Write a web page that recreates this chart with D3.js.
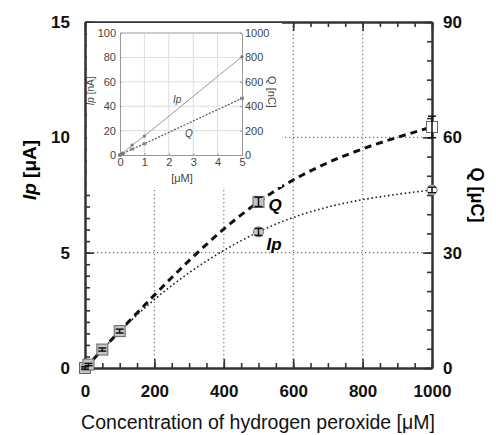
<!DOCTYPE html>
<html>
<head>
<meta charset="utf-8">
<script src="https://cdn.jsdelivr.net/npm/d3@7"></script>
<style>
  body { margin: 0; background: #fff; }
  svg { display: block; }
  .main .tick text { font-family: "Liberation Sans Narrow", "Liberation Sans", Arial, sans-serif; font-weight: bold; font-size: 17px; fill: #111; }
  .inset .tick text { font-family: "Liberation Sans Narrow", "Liberation Sans", Arial, sans-serif; font-size: 11px; fill: #444; }
</style>
</head>
<body>
<div id="chart"></div>
<script>
// main data (concentration in uM, Ip in uA, Q in uC)
const conc = [0, 10, 50, 100, 500, 1000];
const ipMean = [0, 0.15, 0.8, 1.58, 5.9, 7.72];
const ipErr = [0.05, 0.05, 0.07, 0.08, 0.15, 0.12];
const qMean = [0, 0.9, 4.8, 9.6, 43.2, 62.7];
const qErr = [0.3, 0.3, 0.4, 0.5, 1.2, 2.8];

// inset data (concentration in uM, Ip in nA, Q in nC)
const insetConc = [0, 0.1, 0.5, 1, 5];
const insetIp = [0, 1.5, 8.2, 15.5, 80.6];
const insetQ = [0, 9, 49, 92, 465];

const xTicks = [0, 200, 400, 600, 800, 1000];
const ipTicks = [0, 5, 10, 15];
const qTicks = [0, 30, 60, 90];

const W = 496, H = 435;
const margin = {top: 22, right: 64, bottom: 67, left: 85},
    width = W - margin.left - margin.right,
    height = H - margin.top - margin.bottom;

const svg = d3.select("#chart").append("svg")
    .attr("width", W)
    .attr("height", H);

const g = svg.append("g")
    .attr("class", "main")
    .attr("transform", "translate(" + margin.left + "," + margin.top + ")");

const x = d3.scaleLinear().domain([0, 1000]).range([0, width]);
const y = d3.scaleLinear().domain([0, 15]).range([height, 0]);
const yQ = d3.scaleLinear().domain([0, 90]).range([height, 0]);

// dotted grid
const grid = g.append("g").attr("class", "grid");
grid.selectAll("line.v")
    .data(xTicks.slice(1, -1))
    .enter().append("line")
    .attr("x1", d => x(d)).attr("x2", d => x(d))
    .attr("y1", 0).attr("y2", height);
grid.selectAll("line.h")
    .data(ipTicks.slice(1, -1))
    .enter().append("line")
    .attr("x1", 0).attr("x2", width)
    .attr("y1", d => y(d)).attr("y2", d => y(d));
grid.selectAll("line")
    .style("stroke", "#777")
    .style("stroke-width", 1.2)
    .style("stroke-dasharray", "1.3,2.7");

// axes: minor ticks first, then majors with labels
function styleAxis(sel) {
  sel.select(".domain").style("stroke", "#333").style("stroke-width", 2);
  sel.selectAll(".tick line").style("stroke", "#333").style("stroke-width", 1.6);
}

g.append("g").call(d3.axisLeft(y).tickValues(d3.range(0, 15.01, 0.5)).tickSize(-5).tickSizeOuter(0).tickFormat(""))
    .call(styleAxis);
g.append("g").call(d3.axisLeft(y).tickValues(ipTicks).tickSize(-9).tickSizeOuter(0).tickPadding(15).tickFormat(d3.format("d")))
    .call(styleAxis);

g.append("g").attr("transform", "translate(" + width + ",0)")
    .call(d3.axisRight(yQ).tickValues(d3.range(0, 90.01, 5)).tickSize(-5).tickSizeOuter(0).tickFormat(""))
    .call(styleAxis);
g.append("g").attr("transform", "translate(" + width + ",0)")
    .call(d3.axisRight(yQ).tickValues(qTicks).tickSize(-9).tickSizeOuter(0).tickPadding(11).tickFormat(d3.format("d")))
    .call(styleAxis);

g.append("g").attr("transform", "translate(0," + height + ")")
    .call(d3.axisBottom(x).tickValues(d3.range(0, 1000.1, 50)).tickSize(-5).tickSizeOuter(0).tickFormat(""))
    .call(styleAxis);
g.append("g").attr("transform", "translate(0," + height + ")")
    .call(d3.axisBottom(x).tickValues(xTicks).tickSize(-9).tickSizeOuter(0).tickPadding(17).tickFormat(d3.format("d")))
    .call(styleAxis);

g.append("g")
    .call(d3.axisTop(x).tickValues(d3.range(0, 1000.1, 50)).tickSize(-5).tickSizeOuter(0).tickFormat(""))
    .call(styleAxis);
g.append("g")
    .call(d3.axisTop(x).tickValues(xTicks).tickSize(-9).tickSizeOuter(0).tickFormat(""))
    .call(styleAxis);

// curves
const ipLine = d3.line()
    .x((d, i) => x(conc[i]))
    .y(d => y(d))
    .curve(d3.curveMonotoneX);
const qLine = d3.line()
    .x((d, i) => x(conc[i]))
    .y(d => yQ(d))
    .curve(d3.curveMonotoneX);

g.append("path")
    .datum(ipMean)
    .attr("d", ipLine)
    .style("fill", "none")
    .style("stroke", "#222")
    .style("stroke-width", 1.6)
    .style("stroke-dasharray", "1.6,2.6");

g.append("path")
    .datum(qMean)
    .attr("d", qLine)
    .style("fill", "none")
    .style("stroke", "#111")
    .style("stroke-width", 3)
    .style("stroke-dasharray", "7,5");

// error bars
function errorBars(vals, errs, scale) {
  const eb = g.append("g");
  eb.selectAll("line.stem")
      .data(vals)
      .enter().append("line")
      .attr("x1", (d, i) => x(conc[i])).attr("x2", (d, i) => x(conc[i]))
      .attr("y1", (d, i) => scale(d - errs[i])).attr("y2", (d, i) => scale(d + errs[i]));
  eb.selectAll("line.cap1")
      .data(vals)
      .enter().append("line")
      .attr("x1", (d, i) => x(conc[i]) - 4).attr("x2", (d, i) => x(conc[i]) + 4)
      .attr("y1", (d, i) => scale(d - errs[i])).attr("y2", (d, i) => scale(d - errs[i]));
  eb.selectAll("line.cap2")
      .data(vals)
      .enter().append("line")
      .attr("x1", (d, i) => x(conc[i]) - 4).attr("x2", (d, i) => x(conc[i]) + 4)
      .attr("y1", (d, i) => scale(d + errs[i])).attr("y2", (d, i) => scale(d + errs[i]));
  eb.selectAll("line").style("stroke", "#111").style("stroke-width", 1.5);
}

// Ip markers (circles)
g.selectAll("circle.ip")
    .data(ipMean)
    .enter().append("circle")
    .attr("cx", (d, i) => x(conc[i]))
    .attr("cy", d => y(d))
    .attr("r", 5)
    .style("fill", (d, i) => i === conc.length - 1 ? "#fff" : "#c8c8c8")
    .style("stroke", "#777")
    .style("stroke-width", 1);
errorBars(ipMean, ipErr, y);

// Q markers (squares)
g.selectAll("rect.q")
    .data(qMean)
    .enter().append("rect")
    .attr("x", (d, i) => x(conc[i]) - 5.5)
    .attr("y", d => yQ(d) - 5.5)
    .attr("width", 11)
    .attr("height", 11)
    .style("fill", (d, i) => i === conc.length - 1 ? "#fff" : "#c4c4c4")
    .style("stroke", "#666")
    .style("stroke-width", 1);
errorBars(qMean, qErr, yQ);

// series labels
g.append("text")
    .attr("x", x(500) + 10).attr("y", yQ(qMean[4]) + 9)
    .style("font-family", "Liberation Sans, Arial, sans-serif")
    .style("font-weight", "bold").style("font-style", "italic")
    .style("font-size", "17px")
    .text("Q");
g.append("text")
    .attr("x", x(500) + 8).attr("y", y(ipMean[4]) + 18)
    .style("font-family", "Liberation Sans, Arial, sans-serif")
    .style("font-weight", "bold").style("font-style", "italic")
    .style("font-size", "17px")
    .text("Ip");

// axis titles
const leftTitle = svg.append("text")
    .attr("transform", "translate(36,170) rotate(-90)")
    .attr("text-anchor", "middle")
    .style("font-family", "Liberation Sans, Arial, sans-serif")
    .style("font-weight", "bold")
    .style("font-size", "19px");
leftTitle.append("tspan").style("font-style", "italic").text("Ip");
leftTitle.append("tspan").text(" [\u03bcA]");

svg.append("text")
    .attr("transform", "translate(471,195) rotate(90)")
    .attr("text-anchor", "middle")
    .style("font-family", "Liberation Sans, Arial, sans-serif")
    .style("font-weight", "bold")
    .style("font-size", "18px")
    .text("Q [\u03bcC]");

svg.append("text")
    .attr("x", 258).attr("y", 429)
    .attr("text-anchor", "middle")
    .style("font-family", "Liberation Sans, Arial, sans-serif")
    .style("font-size", "19.5px")
    .style("fill", "#111")
    .text("Concentration of hydrogen peroxide [\u03bcM]");

// ---- inset ----
const inset = svg.append("g").attr("class", "inset");
inset.append("rect")
    .attr("x", 87).attr("y", 23)
    .attr("width", 195).attr("height", 164)
    .style("fill", "#fff");

const ix = d3.scaleLinear().domain([0, 5]).range([120, 242]);
const iy = d3.scaleLinear().domain([0, 100]).range([155, 33]);
const iyQ = d3.scaleLinear().domain([0, 1000]).range([155, 33]);

inset.append("g").selectAll("line")
    .data([1, 2, 3, 4])
    .enter().append("line")
    .attr("x1", d => ix(d)).attr("x2", d => ix(d))
    .attr("y1", iy(0)).attr("y2", iy(100))
    .style("stroke", "#ddd");
inset.append("g").selectAll("line")
    .data([20, 40, 60, 80])
    .enter().append("line")
    .attr("x1", ix(0)).attr("x2", ix(5))
    .attr("y1", d => iy(d)).attr("y2", d => iy(d))
    .style("stroke", "#ddd");

function styleInset(sel) {
  sel.select(".domain").style("stroke", "#999").style("stroke-width", 1);
  sel.selectAll(".tick line").style("stroke", "#999");
}
inset.append("g").attr("transform", "translate(" + ix(0) + ",0)")
    .call(d3.axisLeft(iy).tickValues([0, 20, 40, 60, 80, 100]).tickSize(-2).tickSizeOuter(0).tickPadding(4).tickFormat(d3.format("d")))
    .call(styleInset);
inset.append("g").attr("transform", "translate(" + ix(5) + ",0)")
    .call(d3.axisRight(iyQ).tickValues([0, 200, 400, 600, 800, 1000]).tickSize(-2).tickSizeOuter(0).tickPadding(3).tickFormat(d3.format("d")))
    .call(styleInset);
inset.append("g").attr("transform", "translate(0," + iy(0) + ")")
    .call(d3.axisBottom(ix).tickValues([0, 1, 2, 3, 4, 5]).tickSize(-2).tickSizeOuter(0).tickPadding(3).tickFormat(d3.format("d")))
    .call(styleInset);
inset.append("line")
    .attr("x1", ix(0)).attr("x2", ix(5))
    .attr("y1", iy(100)).attr("y2", iy(100))
    .style("stroke", "#999");

inset.append("path")
    .datum(insetIp)
    .attr("d", d3.line().x((d, i) => ix(insetConc[i])).y(d => iy(d)))
    .style("fill", "none").style("stroke", "#999").style("stroke-width", 1);
inset.append("path")
    .datum(insetQ)
    .attr("d", d3.line().x((d, i) => ix(insetConc[i])).y(d => iyQ(d)))
    .style("fill", "none").style("stroke", "#555").style("stroke-width", 1.2)
    .style("stroke-dasharray", "2,1.5");

inset.selectAll("rect.pt")
    .data(insetQ)
    .enter().append("rect")
    .attr("x", (d, i) => ix(insetConc[i]) - 2).attr("y", d => iyQ(d) - 1.5)
    .attr("width", 4).attr("height", 3)
    .style("fill", "#888");
inset.selectAll("circle.pt")
    .data(insetIp)
    .enter().append("circle")
    .attr("cx", (d, i) => ix(insetConc[i])).attr("cy", d => iy(d))
    .attr("r", 1.6)
    .style("fill", "#777");

inset.append("text")
    .attr("x", 173).attr("y", 103)
    .style("font-family", "Liberation Sans, Arial, sans-serif")
    .style("font-style", "italic").style("font-size", "10px").style("fill", "#444")
    .text("Ip");
inset.append("text")
    .attr("x", 185).attr("y", 137)
    .style("font-family", "Liberation Sans, Arial, sans-serif")
    .style("font-style", "italic").style("font-size", "10px").style("fill", "#444")
    .text("Q");

inset.append("text")
    .attr("x", 182).attr("y", 182)
    .attr("text-anchor", "middle")
    .style("font-family", "Liberation Sans, Arial, sans-serif")
    .style("font-size", "11px").style("fill", "#444")
    .text("[\u03bcM]");

const iLeft = inset.append("text")
    .attr("transform", "translate(94,91) rotate(-90)")
    .attr("text-anchor", "middle")
    .style("font-family", "Liberation Sans, Arial, sans-serif")
    .style("font-size", "10px").style("fill", "#444");
iLeft.append("tspan").style("font-style", "italic").text("Ip");
iLeft.append("tspan").text(" [nA]");

inset.append("text")
    .attr("transform", "translate(268,92) rotate(90)")
    .attr("text-anchor", "middle")
    .style("font-family", "Liberation Sans, Arial, sans-serif")
    .style("font-size", "11px").style("fill", "#444")
    .text("Q [nC]");
</script>
</body>
</html>
